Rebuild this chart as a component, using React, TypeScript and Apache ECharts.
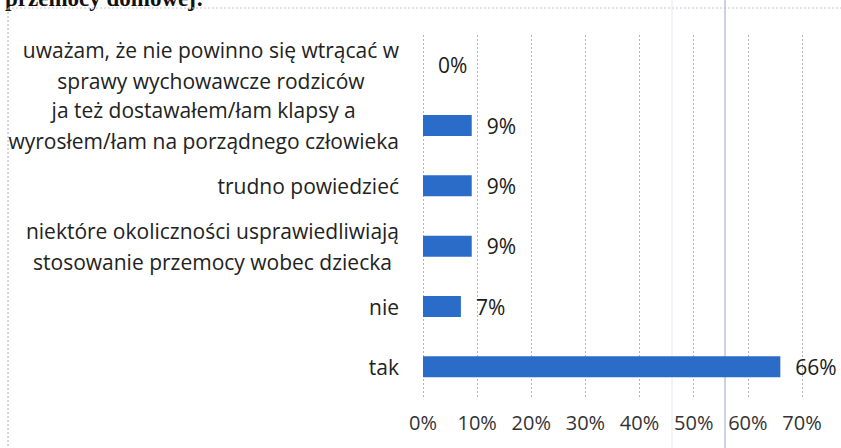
import React, { useEffect, useRef } from "react";
import * as echarts from "echarts";

const categories = [
  "uważam, że nie powinno się wtrącać w\nsprawy wychowawcze rodziców",
  "ja też dostawałem/łam klapsy a\nwyrosłem/łam na porządnego człowieka",
  "trudno powiedzieć",
  "niektóre okoliczności usprawiedliwiają\nstosowanie przemocy wobec dziecka",
  "nie",
  "tak",
];
const values = [0, 9, 9, 9, 7, 66];
const xTicks = [0, 10, 20, 30, 40, 50, 60, 70];
const headerText = "przemocy domowej:";

const FONT = '"Open Sans", "DejaVu Sans", sans-serif';

export default function App() {
  const ref = useRef<HTMLDivElement>(null);
  useEffect(() => {
    if (!ref.current) return;
    const chart = echarts.init(ref.current, undefined, { renderer: "svg" });
    chart.setOption({
      animation: false,
      backgroundColor: "#ffffff",
      grid: { left: 423, right: 39, top: 35, bottom: 51, containLabel: false },
      xAxis: {
        type: "value",
        min: xTicks[0],
        max: xTicks[xTicks.length - 1],
        interval: 10,
        axisLine: { show: false },
        axisTick: { show: false },
        splitLine: { show: true, lineStyle: { color: "#b4b4b4", type: [2, 2], width: 1 } },
        axisLabel: {
          formatter: "{value}%",
          fontSize: 20,
          fontFamily: FONT,
          color: "#333",
          margin: 15,
        },
      },
      yAxis: {
        type: "category",
        inverse: true,
        data: categories,
        axisLine: { show: false },
        axisTick: { show: false },
        axisLabel: {
          margin: 24,
          align: "right",
          color: "#222",
          fontFamily: FONT,
          fontSize: 21,
          formatter: (v: string) =>
            v
              .split("\n")
              .map((l) => "{c|" + l + "}")
              .join("\n"),
          rich: {
            c: { align: "center", fontSize: 21, lineHeight: 31, fontFamily: FONT, color: "#222" },
          },
        },
      },
      series: [
        {
          type: "bar",
          data: values,
          barWidth: 21,
          itemStyle: { color: "#2b6cc9" },
          label: {
            show: true,
            position: "right",
            distance: 15,
            formatter: "{c}%",
            fontSize: 21,
            fontFamily: FONT,
            color: "#1a1a1a",
          },
        },
      ],
      graphic: [
        {
          type: "text",
          left: 5,
          top: -13,
          style: {
            text: headerText,
            font: 'bold 23px "Liberation Serif", serif',
            fill: "#111",
          },
        },
        {
          type: "line",
          shape: { x1: 8, y1: 8, x2: 841, y2: 8 },
          style: { stroke: "#c8c8c8", lineWidth: 1, lineDash: [2, 2] },
        },
        {
          type: "line",
          shape: { x1: 8, y1: 8, x2: 8, y2: 448 },
          style: { stroke: "#b0b0b0", lineWidth: 1, lineDash: [2, 2] },
        },
        {
          type: "line",
          shape: { x1: 725, y1: 0, x2: 725, y2: 448 },
          style: { stroke: "#9aa6c8", lineWidth: 1 },
        },
        {
          type: "line",
          shape: { x1: 672, y1: 0, x2: 672, y2: 448 },
          style: { stroke: "#e4e8f2", lineWidth: 1 },
        },
      ],
    });
    return () => chart.dispose();
  }, []);
  return (
    <div
      ref={ref}
      style={{ position: "fixed", left: 0, top: 0, width: 841, height: 448 }}
    />
  );
}
